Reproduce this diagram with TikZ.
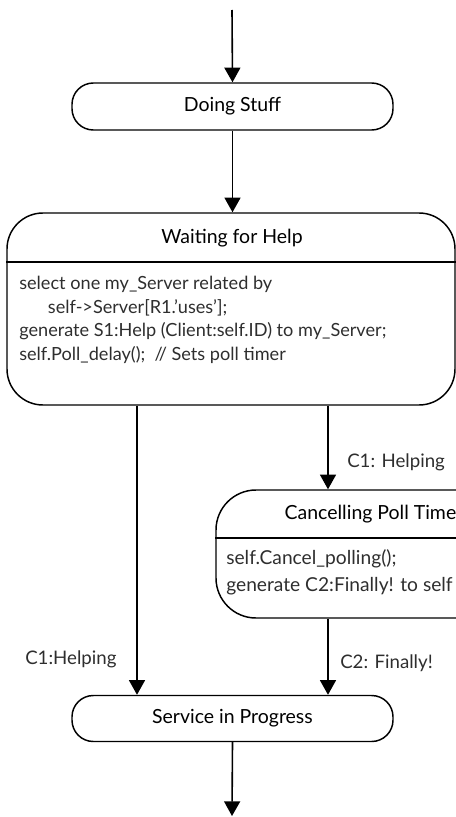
\documentclass[tikz,border=0pt]{standalone}
\usepackage{fontspec}
\setmainfont{Lato}
\usetikzlibrary{arrows.meta}
\definecolor{labelgray}{HTML}{2E2E2E}
\tikzset{
  arr/.style={line width=1.2pt, -{Triangle[width=12pt,length=11pt]}},
  statebox/.style={draw, line width=1.1pt, rounded corners=#1, inner sep=0pt},
  title/.style={font=\fontsize{14.6pt}{17pt}\selectfont, text=black, inner sep=0pt},
  body/.style={font=\fontsize{13.6pt}{17.6pt}\selectfont, text=labelgray, align=left, inner sep=0pt},
  bigbody/.style={body, font=\fontsize{14.4pt}{20.25pt}\selectfont},
  evlabel/.style={font=\fontsize{14pt}{16pt}\selectfont, text=labelgray, inner sep=0pt}
}
\begin{document}
\begin{tikzpicture}[x=0.75pt, y=-0.75pt]
  \useasboundingbox (0,0) rectangle (456,817);
  \clip (0,0) rectangle (456,817);

  % lanes for the vertical transitions
  \coordinate (leftlane) at (137,0);
  \coordinate (rightlane) at (328,0);
  \coordinate (start) at (232,10);
  \coordinate (finish) at (232,816);

  % states
  \node[statebox=16pt, minimum width=240.75pt, minimum height=35.25pt] (doing) at (232.5,106.5) {};
  \node[title] (doingt) at (doing) {Doing Stuff};

  \node[statebox=27pt, minimum width=336pt, minimum height=144pt] (wait) at (231,309) {};
  \node[title] (waitt) at (232,238) {Waiting for Help};
  \draw[line width=1.1pt] (wait.west |- 0,262) -- (wait.east |- 0,262);
  \node[body, anchor=north west] (waitb) at (19,276) {select one my\_Server related by\\
    \hspace*{21.5pt}self->Server[R1.'uses'];\\
    generate S1:Help (Client:self.ID) to my\_Server;\\
    self.Poll\_delay();\ \ // Sets poll timer};

  % this state runs past the right-hand edge of the sheet
  \node[statebox=30pt, minimum width=237pt, minimum height=96pt] (cancel) at (374,554) {};
  \node[title] (cancelt) at (374,514) {Cancelling Poll Timer};
  \draw[line width=1.1pt] (cancel.west |- 0,538) -- (cancel.east |- 0,538);
  \node[bigbody, anchor=north west] (cancelb) at (226,549) {self.Cancel\_polling();\\
    generate C2:Finally! to self};

  \node[statebox=16pt, minimum width=240.75pt, minimum height=34.5pt] (svc) at (232.5,718.5) {};
  \node[title] (svct) at (svc) {Service in Progress};

  % transitions
  \draw[arr] (start) -- (doing.north);
  \draw[arr] (doing.south) -- (wait.north -| doing.south);
  \draw[arr] (wait.south -| leftlane) -- (svc.north -| leftlane);
  \draw[arr] (wait.south -| rightlane) -- (cancel.north -| rightlane);
  \draw[arr] (cancel.south -| rightlane) -- (svc.north -| rightlane);
  \draw[arr] (svc.south) -- (finish);

  % event labels
  \node[evlabel, anchor=west] (lab1) at (347,462) {C1: Helping};
  \node[evlabel, anchor=west] (lab2) at (340,663) {C2: Finally!};
  \node[evlabel, anchor=west] (lab3) at (25,659) {C1:Helping};
\end{tikzpicture}
\end{document}
